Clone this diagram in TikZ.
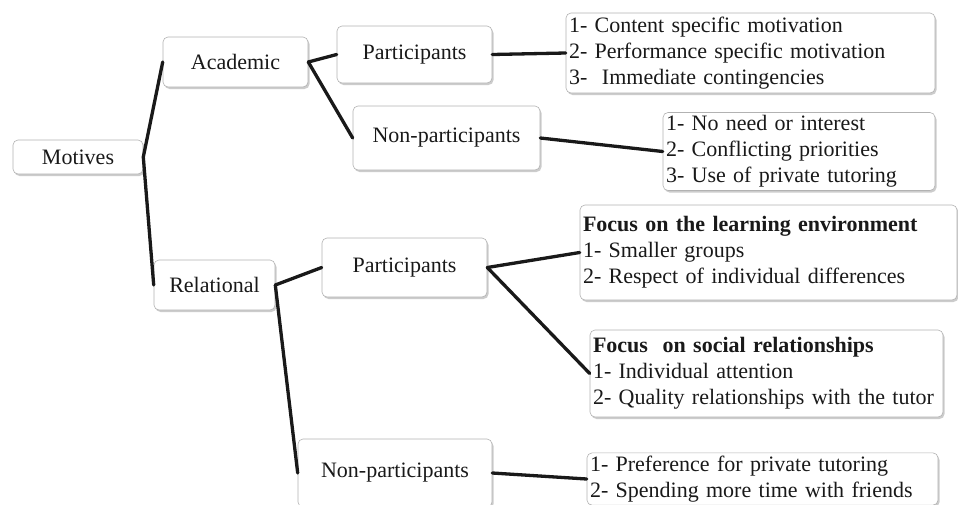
\documentclass[tikz,border=0pt]{standalone}
\usepackage{fontspec}
\setmainfont{Liberation Serif}
\usetikzlibrary{shadows}

\begin{document}
\begin{tikzpicture}[x=1pt, y=-1pt, font=\fontsize{22}{26}\selectfont,
    box/.style={draw=gray!60, line width=0.6pt, rounded corners=5pt, fill=white,
        text=black!90, inner sep=2pt, align=center,
        drop shadow={shadow xshift=1.5pt, shadow yshift=-2pt, fill=gray!50, opacity=0.8}},
    listbox/.style={box, align=left, inner sep=3pt},
    link/.style={line width=3.3pt, black!90, line cap=round}]

    % --- 1. Frame (page size of the picture) ---
    \useasboundingbox (0,0) rectangle (958,504);

    % --- 2. Main branches ---
    \node[box, minimum width=130, minimum height=34] (motives) at (78,157) {Motives};
    \node[box, minimum width=145, minimum height=50] (academic) at (235.5,62) {Academic};
    \node[box, minimum width=121, minimum height=50] (relational) at (214.5,285) {Relational};

    % --- 3. Academic: participants / non-participants ---
    \node[box, minimum width=155, minimum height=57] (partA) at (414.5,54.5) {Participants};
    \node[box, minimum width=187, minimum height=64] (nonpartA) at (446.5,138) {Non-participants};

    \node[listbox, text width=363, minimum height=80] (listA1) at (750.5,53)
        {1- Content specific motivation\\2- Performance specific motivation\\3-\ \ Immediate contingencies};
    \node[listbox, text width=266, minimum height=77] (listA2) at (799,151.5)
        {1- No need or interest\\2- Conflicting priorities\\3- Use of private tutoring};

    % --- 4. Relational: participants / non-participants ---
    \node[box, minimum width=165, minimum height=59] (partR) at (404.5,267.5) {Participants};
    \node[box, minimum width=194, minimum height=68] (nonpartR) at (395,473) {Non-participants};

    \node[listbox, text width=371, minimum height=95] (listR1) at (768.5,252.5)
        {\textbf{Focus on the learning environment}\\1- Smaller groups\\2- Respect of individual differences};
    \node[listbox, text width=347, minimum height=87] (listR2) at (766.5,373.5)
        {\textbf{Focus\ \ on social relationships}\\1- Individual attention\\2- Quality relationships with the tutor};
    \node[listbox, text width=345, minimum height=52] (listR3) at (762.5,479)
        {1- Preference for private tutoring\\2- Spending more time with friends};

    % --- 5. Connectors ---
    \draw[link] (motives.east) -- (academic.west);
    \draw[link] (motives.east) -- (relational.west);

    \draw[link] (academic.east) -- (partA.west);
    \draw[link] (academic.east) -- (nonpartA.west);
    \draw[link] (partA.east) -- (listA1.west);
    \draw[link] (nonpartA.east) -- (listA2.west);

    \draw[link] (relational.east) -- (partR.west);
    \draw[link] (relational.east) -- (nonpartR.west);
    \draw[link] (partR.east) -- (listR1.west);
    \draw[link] (partR.east) -- (listR2.west);
    \draw[link] (nonpartR.east) -- (listR3.west);

\end{tikzpicture}
\end{document}
